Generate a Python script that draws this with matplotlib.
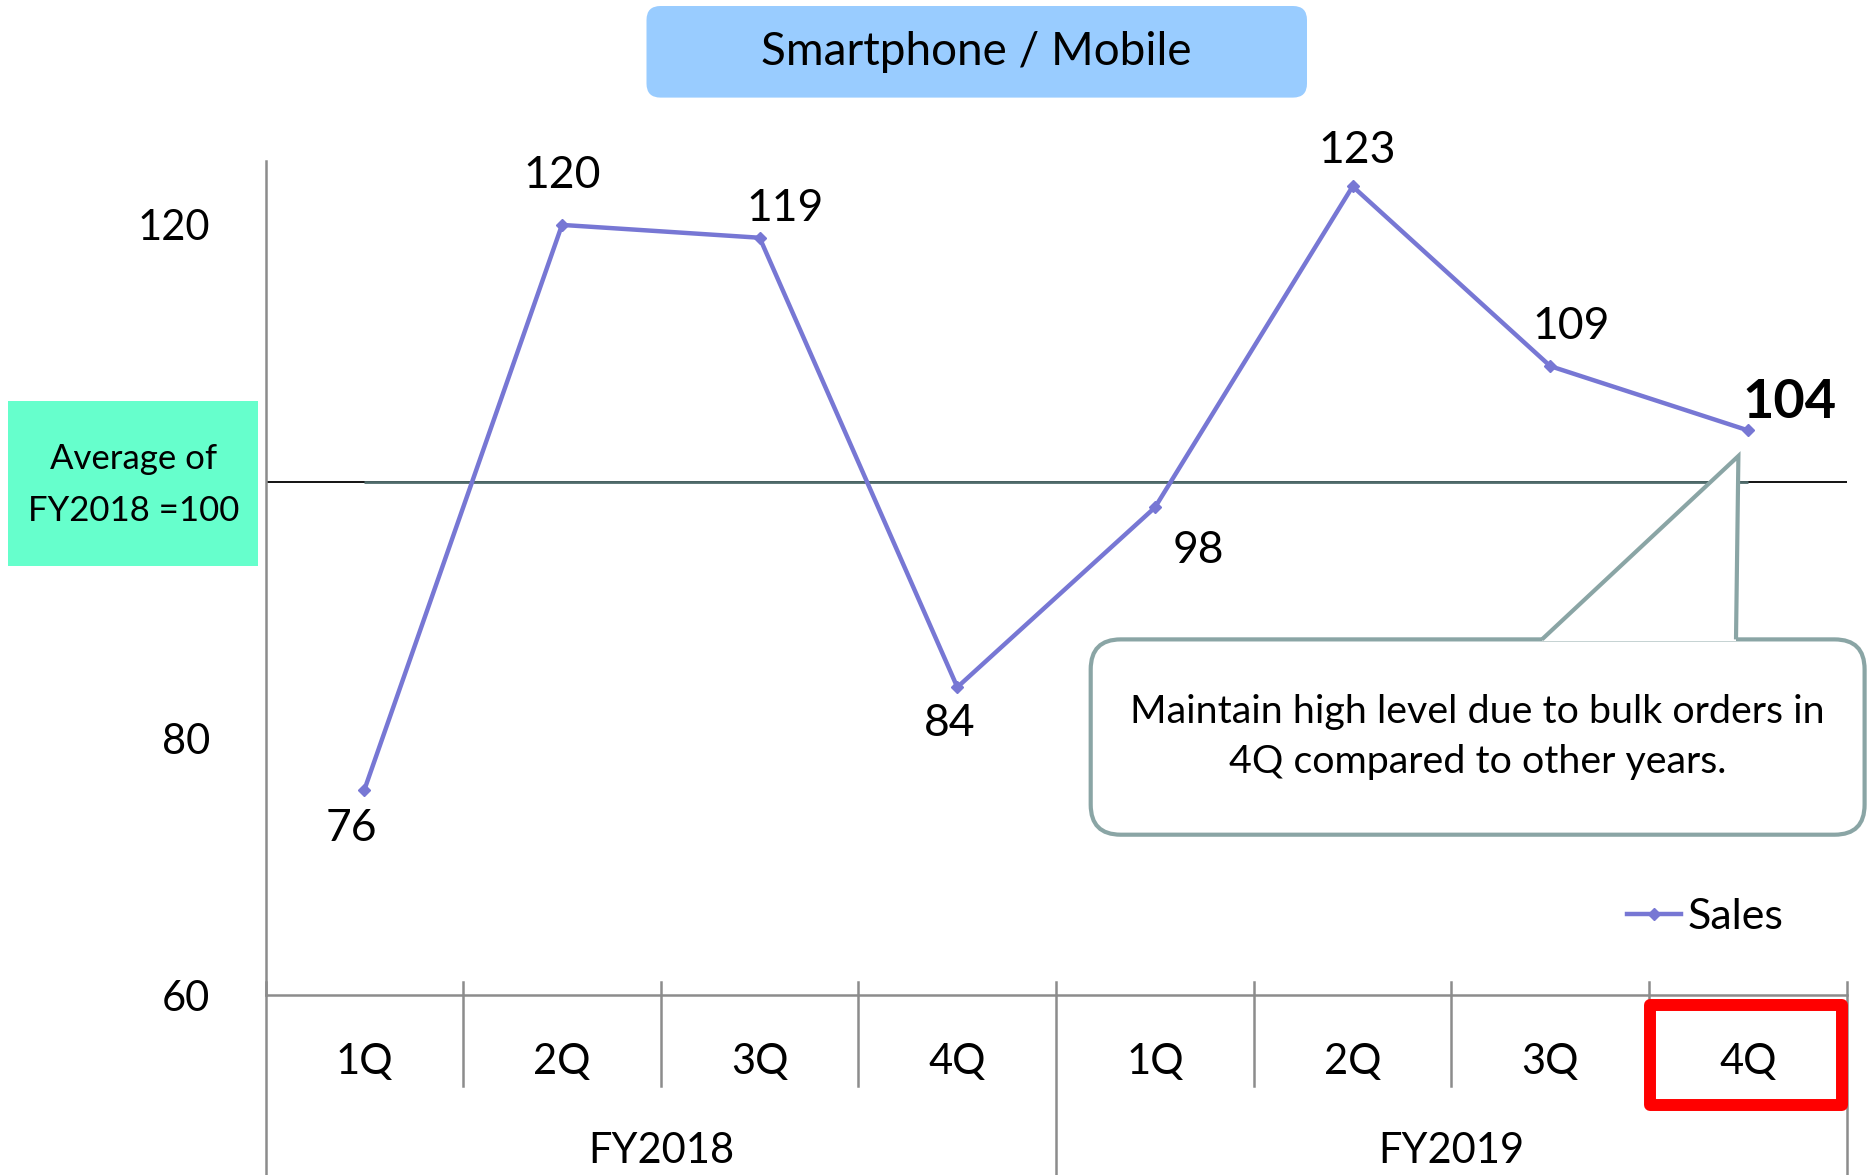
import matplotlib.pyplot as plt
from matplotlib.patches import FancyBboxPatch, Rectangle, Polygon
from matplotlib.transforms import IdentityTransform

quarters = ['1Q', '2Q', '3Q', '4Q', '1Q', '2Q', '3Q', '4Q']
years = ['FY2018', 'FY2019']
sales = [76, 120, 119, 84, 98, 123, 109, 104]
baseline = 100
yticks = [60, 80, 120]

# label offsets in pixels (dx, dy) relative to each point
label_offsets = [(-13, -39), (0, 49), (25, 29), (-8, -36),
                 (43, -43), (5, 36), (21, 40), (42, 28)]

W, H = 1867, 1175
DPI = 100
line_color = '#7777D4'
gray = '#8C8C8C'
callout_edge = '#8AA5A5'

plt.rcParams['font.family'] = ['Lato', 'DejaVu Sans']

fig = plt.figure(figsize=(W / DPI, H / DPI), dpi=DPI)
ax = fig.add_axes([265.5 / W, 1 - 995.4 / H, (1846.8 - 265.5) / W, (995.4 - 160.7) / H])


def px(x, y):
    # top-left pixel coords -> display coords
    return (x, H - y)


n = len(sales)
x = list(range(n))

ax.axhline(baseline, color='black', lw=1.3, zorder=1)
ax.hlines(baseline, 0, n - 1, color='#4F6B6B', lw=2, zorder=1)
ax.plot(x, sales, color=line_color, lw=3.2, marker='D', ms=6, label='Sales', zorder=5)

for i, v in enumerate(sales):
    bold = i == n - 1
    ax.annotate(str(v), (x[i], v), xytext=label_offsets[i], textcoords='offset pixels',
                ha='center', va='center', fontsize=39 if bold else 32,
                fontweight='bold' if bold else 'normal', zorder=6)

ax.set_xlim(-0.5, n - 0.5)
ax.set_ylim(60, 125)
ax.set_yticks(yticks)
ax.tick_params(axis='y', length=0, pad=40, labelsize=30)
ax.set_xticks(x, quarters)
ax.tick_params(axis='x', length=0, pad=34, labelsize=30)

for s in ['top', 'right']:
    ax.spines[s].set_visible(False)
for s in ['left', 'bottom']:
    ax.spines[s].set_color(gray)
    ax.spines[s].set_linewidth(1.8)

# category separators below the axis
tr = ax.get_xaxis_transform()
for b in range(n + 1):
    xb = b - 0.5
    if b % 4 == 0:
        ax.plot([xb, xb], [0.016, -0.215], color=gray, lw=1.8, transform=tr, clip_on=False)
    else:
        ax.plot([xb, xb], [0.016, -0.1085], color=gray, lw=1.8, transform=tr, clip_on=False)
for j, yr in enumerate(years):
    ax.text(j * 4 + 1.5, -0.1864, yr, transform=tr, ha='center', va='center', fontsize=30)

ax.legend(loc='center left', bbox_to_anchor=(1627 / W, 1 - 917 / H), bbox_transform=fig.transFigure,
          frameon=False, fontsize=31, handlelength=1.25, handletextpad=0.15,
          borderpad=0, borderaxespad=0)

ident = IdentityTransform()

# title box
x0, y0 = px(646.5, 97.6)
fig.add_artist(FancyBboxPatch((x0, y0), 1307 - 646.5, 91.6, boxstyle='round,pad=0,rounding_size=14',
                              facecolor='#99CCFF', edgecolor='none', transform=ident))
fig.text(976 / W, 1 - 52 / H, 'Smartphone / Mobile', ha='center', va='center', fontsize=33)

# baseline box
x0, y0 = px(8.3, 565.6)
fig.add_artist(Rectangle((x0, y0), 250, 164.6, facecolor='#66FFCC', edgecolor='none', transform=ident))
fig.text(133.4 / W, 1 - 485 / H, 'Average of\nFY2018 =100', ha='center', va='center',
         fontsize=25, linespacing=1.75)

# callout
x0, y0 = px(1090.7, 834.7)
fig.add_artist(FancyBboxPatch((x0, y0), 1864.6 - 1090.7, 834.7 - 639.4,
                              boxstyle='round,pad=0,rounding_size=30',
                              facecolor='white', edgecolor=callout_edge, lw=3, transform=ident))
tri = [px(1542, 641), px(1738.4, 456), px(1736, 641)]
fig.add_artist(Polygon(tri, closed=True, facecolor='white', edgecolor='none', transform=ident))
fig.add_artist(Polygon([px(1542, 639.4), px(1738.4, 456), px(1736, 639.4)], closed=False,
                       fill=False, edgecolor=callout_edge, lw=3, transform=ident))
fig.text(1477.7 / W, 1 - 737 / H, 'Maintain high level due to bulk orders in\n4Q compared to other years.',
         ha='center', va='center', fontsize=28.4, linespacing=1.45)

# highlight last quarter
x0, y0 = px(1650, 1105)
fig.add_artist(Rectangle((x0, y0), 192, 100, fill=False, edgecolor='#FF0000', lw=8.6,
                         joinstyle='round', transform=ident))

fig.savefig('out.png', dpi=DPI)
